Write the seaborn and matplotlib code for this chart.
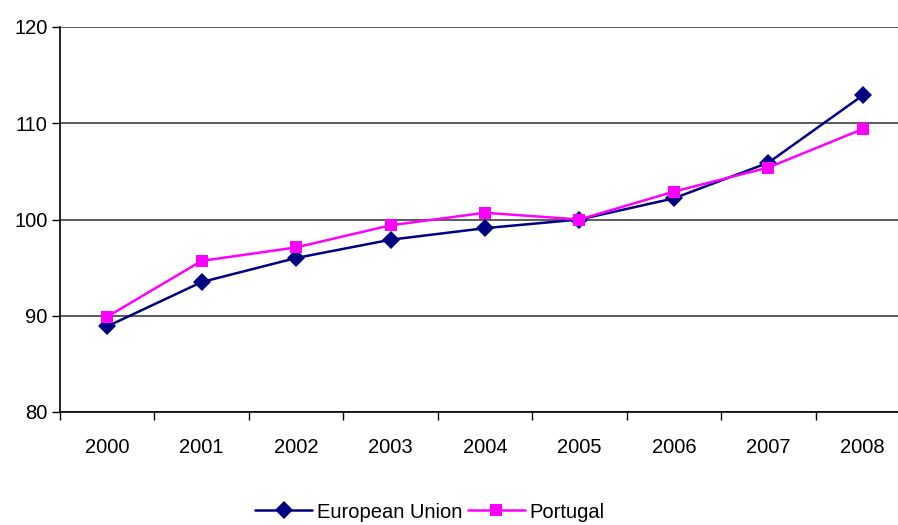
import matplotlib
matplotlib.use('Agg')
import matplotlib.pyplot as plt
from matplotlib.ticker import FixedLocator
import pandas as pd
import seaborn as sns

years = ['2000', '2001', '2002', '2003', '2004', '2005', '2006', '2007', '2008']
eu = [88.9, 93.5, 96.0, 97.9, 99.1, 100.0, 102.2, 105.9, 112.9]
portugal = [89.9, 95.7, 97.1, 99.4, 100.7, 100.0, 102.9, 105.4, 109.4]

data = pd.DataFrame({
    'year': years * 2,
    'value': eu + portugal,
    'series': ['European Union'] * len(years) + ['Portugal'] * len(years),
})

sns.set_style('white')
plt.rcParams['font.family'] = ['Liberation Sans', 'DejaVu Sans']
plt.rcParams['text.color'] = 'black'
plt.rcParams['xtick.color'] = 'black'
plt.rcParams['ytick.color'] = 'black'

fig = plt.figure(figsize=(8.98, 5.25), dpi=100)
ax = fig.add_axes([60 / 898, 113 / 525, 850 / 898, 385 / 525])

sns.lineplot(data=data, x='year', y='value', hue='series', style='series',
             palette={'European Union': '#000080', 'Portugal': '#FF00FF'},
             markers={'European Union': 'D', 'Portugal': 's'},
             dashes=False, linewidth=1.8, markersize=9, markeredgewidth=0,
             ax=ax, zorder=3)

ax.set_xlim(-0.5, 8.5)
ax.set_ylim(80, 120)
ax.set_yticks([80, 90, 100, 110, 120])
ax.yaxis.grid(True, color='#404040', linewidth=1.2)
ax.set_axisbelow(True)
ax.set_xlabel('')
ax.set_ylabel('')

ax.xaxis.set_minor_locator(FixedLocator([i - 0.5 for i in range(len(years) + 1)]))
ax.tick_params(axis='x', which='major', length=0, pad=19, labelsize=14.5)
ax.tick_params(axis='x', which='minor', length=6, width=1, color='black', direction='out', bottom=True)
ax.tick_params(axis='y', which='major', length=6, width=1, color='black', direction='out', left=True, labelsize=14.5, pad=3)

for side in ['top', 'right']:
    ax.spines[side].set_visible(False)
for side in ['left', 'bottom']:
    ax.spines[side].set_color('black')
    ax.spines[side].set_linewidth(1.2)

handles, labels = ax.get_legend_handles_labels()
ax.legend(handles, labels, loc='center', bbox_to_anchor=(430 / 898, 13 / 525),
          bbox_transform=fig.transFigure, ncol=2, frameon=False, fontsize=14.5,
          handlelength=2.8, columnspacing=0.3, handletextpad=0.25)

fig.savefig('out.png', dpi=100)
